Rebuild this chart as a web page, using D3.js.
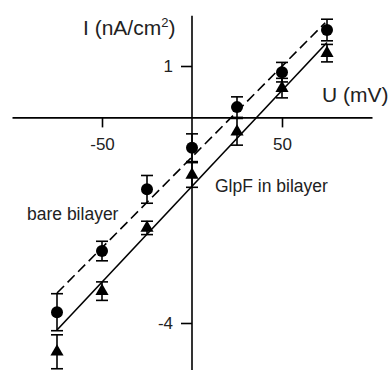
<!DOCTYPE html>
<html>
<head>
<meta charset="utf-8">
<script src="https://cdn.jsdelivr.net/npm/d3@7"></script>
<style>
  body { margin: 0; background: #fff; }
  svg { display: block; font-family: Arial, "Liberation Sans", sans-serif; }
  .axis path, .axis line { stroke: #000; stroke-width: 1.6; }
  .axis text { fill: #222; }
</style>
</head>
<body>
<svg width="388" height="370"></svg>
<script>
// voltages (mV)
const voltages = [-75, -50, -25, 0, 25, 50, 75];

// bare bilayer: mean current and error (nA/cm2)
const bareMean = [-3.79, -2.60, -1.40, -0.59, 0.20, 0.88, 1.70];
const bareErr = [0.36, 0.19, 0.27, 0.27, 0.20, 0.19, 0.21];

// GlpF in bilayer
const glpfMean = [-4.56, -3.38, -2.15, -1.12, -0.28, 0.57, 1.25];
const glpfErr = [0.33, 0.18, 0.13, 0.24, 0.26, 0.19, 0.17];

// linear fits: [slope, intercept, uStart, uEnd]
const bareFit = [0.0353, -0.77, -75, 74];
const glpfFit = [0.0373, -1.34, -75, 75];

const xTicks = [-50, 50];
const yTicks = [1, -4];

const svg = d3.select('svg');

const x = d3.scaleLinear().domain([-100, 100]).range([12, 372]);
const y = d3.scaleLinear().domain([-5, 2]).range([374.4, 14.6]);

// axes through origin
svg.append('g')
    .attr('class', 'axis')
    .attr('transform', `translate(0,${y(0)})`)
    .call(d3.axisBottom(x).tickValues(xTicks).tickFormat(d => String(d))
        .tickSize(10).tickSizeOuter(0).tickPadding(11))
    .call(g => g.selectAll('text').attr('font-size', 17));

svg.append('g')
    .attr('class', 'axis')
    .attr('transform', `translate(${x(0)},0)`)
    .call(d3.axisLeft(y).tickValues(yTicks).tickFormat(d => String(d))
        .tickSize(11).tickSizeOuter(0).tickPadding(8))
    .call(g => g.select('.domain').attr('d', `M0,${y(1.98)}V370`))
    .call(g => g.selectAll('text').attr('font-size', 17));

// fit lines
const fitLine = (f) => [f[2], f[3]].map(u => [x(u), y(f[0] * u + f[1])]);

svg.append('path')
    .attr('d', d3.line()(fitLine(bareFit)))
    .attr('fill', 'none')
    .attr('stroke', '#000')
    .attr('stroke-width', 1.6)
    .attr('stroke-dasharray', '10,5');

svg.append('path')
    .attr('d', d3.line()(fitLine(glpfFit)))
    .attr('fill', 'none')
    .attr('stroke', '#000')
    .attr('stroke-width', 1.6);

// error bars
const drawErr = (means, errs) => {
    const g = svg.append('g').attr('stroke', '#000').attr('stroke-width', 1.6);
    voltages.forEach((u, i) => {
        const cx = x(u);
        const t = y(means[i] + errs[i]);
        const b = y(means[i] - errs[i]);
        g.append('line').attr('x1', cx).attr('x2', cx).attr('y1', t).attr('y2', b);
        g.append('line').attr('x1', cx - 6).attr('x2', cx + 6).attr('y1', t).attr('y2', t);
        g.append('line').attr('x1', cx - 6).attr('x2', cx + 6).attr('y1', b).attr('y2', b);
    });
};
drawErr(bareMean, bareErr);
drawErr(glpfMean, glpfErr);

svg.append('g')
    .selectAll('circle')
    .data(voltages)
    .enter().append('circle')
    .attr('cx', d => x(d))
    .attr('cy', (d, i) => y(bareMean[i]))
    .attr('r', 6)
    .attr('fill', '#000');

svg.append('g')
    .selectAll('path')
    .data(voltages)
    .enter().append('path')
    .attr('d', d3.symbol().type(d3.symbolTriangle).size(75))
    .attr('transform', (d, i) => `translate(${x(d)},${y(glpfMean[i])})`)
    .attr('fill', '#000');

// labels
svg.append('text')
    .attr('x', 83).attr('y', 35)
    .attr('font-size', 21).attr('fill', '#222')
    .html('I (nA/cm<tspan dy="-8" font-size="13">2</tspan><tspan dy="8">)</tspan>');

svg.append('text')
    .attr('x', 322).attr('y', 102)
    .attr('font-size', 21).attr('fill', '#222')
    .text('U (mV)');

svg.append('text')
    .attr('x', 27).attr('y', 220)
    .attr('font-size', 17.5).attr('fill', '#222')
    .text('bare bilayer');

svg.append('text')
    .attr('x', 215).attr('y', 192)
    .attr('font-size', 17.5).attr('fill', '#222')
    .text('GlpF in bilayer');
</script>
</body>
</html>
